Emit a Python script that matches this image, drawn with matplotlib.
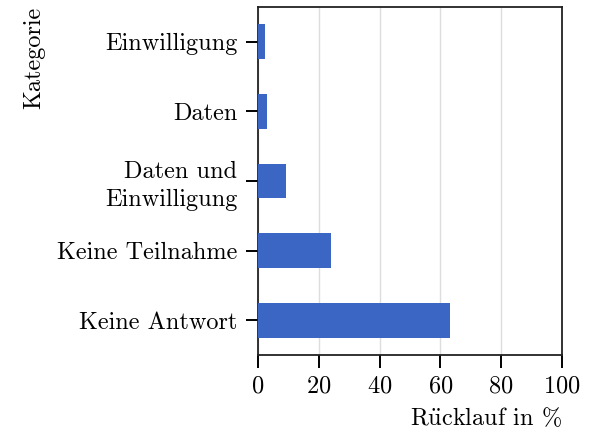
import numpy as np
import matplotlib
matplotlib.use('Agg')
import matplotlib.pyplot as plt

plt.rcParams['font.family'] = ['cmr10', 'DejaVu Serif']
plt.rcParams['mathtext.fontset'] = 'cm'
plt.rcParams['axes.formatter.use_mathtext'] = True

# Rücklauf pro Kategorie (in %)
kategorien = ['Keine Antwort', 'Keine Teilnahme', 'Daten und\nEinwilligung', 'Daten', 'Einwilligung']
ruecklauf = [63.0, 24.0, 9.2, 2.8, 2.3]
xticks = [0, 20, 40, 60, 80, 100]

fig = plt.figure(figsize=(5.93, 4.33), dpi=100)
ax = fig.add_axes([258 / 593, 1 - 355 / 433, (562 - 258) / 593, (355 - 7) / 433])

y = np.arange(len(kategorien))
ax.barh(y, ruecklauf, height=0.5, color='#3b66c4', zorder=3)

ax.set_yticks(y)
ax.set_yticklabels(kategorien, ha='right', multialignment='right', linespacing=1.3)
ax.set_ylim(-0.5, len(kategorien) - 0.5)
ax.set_xlim(0, 100)
ax.set_xticks(xticks)
ax.grid(axis='x', color='#dddddd', linewidth=1.0, zorder=0)
ax.set_axisbelow(True)

ax.tick_params(axis='both', labelsize=17.5, length=9, width=1.4, color='black')
ax.tick_params(axis='y', pad=6)
ax.tick_params(axis='x', pad=6)
for s in ax.spines.values():
    s.set_linewidth(1.3)
    s.set_color('#222222')

ax.set_xlabel(r'R$\ddot{\mathrm{u}}$cklauf in %', fontsize=17.5, loc='right', labelpad=6)
ax.set_ylabel('Kategorie', fontsize=17.5, loc='top')
ax.yaxis.set_label_coords(-(258 - 45) / (562 - 258), 1.0)

fig.savefig('out.png', dpi=100)
